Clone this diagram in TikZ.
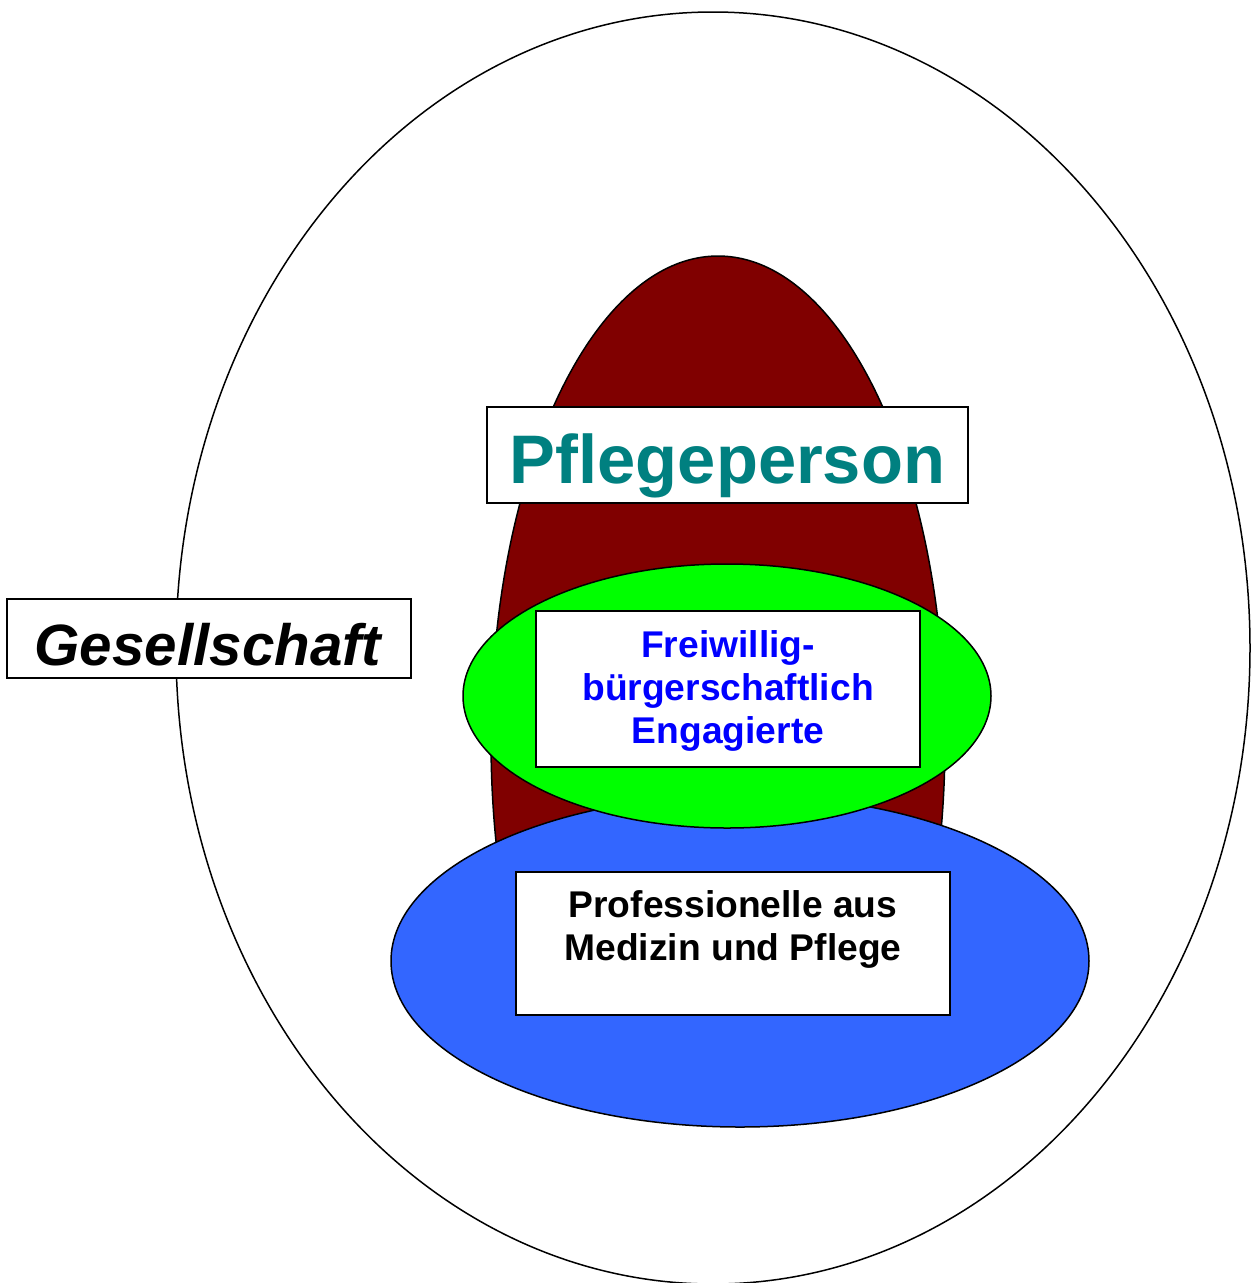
\documentclass[tikz,border=0pt]{standalone}
\usepackage{fontspec}
\setmainfont{Liberation Sans}
\definecolor{darkred}{RGB}{128,0,0}
\definecolor{brightgreen}{RGB}{0,255,0}
\definecolor{midblue}{RGB}{51,102,255}
\definecolor{tealtext}{RGB}{0,128,128}
\definecolor{bluetext}{RGB}{0,0,255}
\begin{document}
\begin{tikzpicture}[
  shapeline/.style={draw=black, line width=1.5pt},
  labelbox/.style={draw=black, fill=white, line width=1.8pt, rectangle, inner sep=0pt},
  boxtext/.style={inner sep=0pt, align=center, font=\bfseries\fontsize{37.2}{43}\selectfont}
]
\useasboundingbox (0pt,0pt) rectangle (1251pt,-1283pt);
% society ellipse
\draw[shapeline, fill=white] (713pt,-648pt) ellipse [x radius=537pt, y radius=636pt];
% caregiver shape (lower part hidden behind the professionals ellipse)
\begin{scope}
  \clip (400pt,-200pt) rectangle (1000pt,-950pt);
  \draw[shapeline, fill=darkred] (718pt,-740pt) ellipse [x radius=227pt, y radius=484pt];
\end{scope}
% professionals ellipse
\draw[shapeline, fill=midblue] (740pt,-961pt) ellipse [x radius=349pt, y radius=166pt];
% volunteers ellipse
\draw[shapeline, fill=brightgreen] (727pt,-696pt) ellipse [x radius=264pt, y radius=132pt];

% boxes
\node[labelbox, minimum width=481pt, minimum height=96pt] (pbox) at (727.5pt,-455pt) {};
\node[inner sep=0pt, anchor=base, text=tealtext, font=\bfseries\fontsize{68.7}{80}\selectfont] (ptext) at (727.5pt,-483pt) {Pflegeperson};

\node[labelbox, minimum width=404pt, minimum height=79pt] (gbox) at (209pt,-638.5pt) {};
\node[inner sep=0pt, anchor=base, font=\bfseries\itshape\fontsize{58.3}{68}\selectfont] (gtext) at (208pt,-665pt) {Gesellschaft};

\node[labelbox, minimum width=384pt, minimum height=156pt] (fbox) at (728pt,-689pt) {};
\node[boxtext, text=bluetext] (ftext) at (728pt,-690.5pt) {Freiwillig-\\bürgerschaftlich\\Engagierte};

\node[labelbox, minimum width=434pt, minimum height=143pt] (mbox) at (733pt,-943.5pt) {};
\node[boxtext, text=black] (mtext) at (733pt,-929pt) {Professionelle aus\\Medizin und Pflege};
\end{tikzpicture}
\end{document}
